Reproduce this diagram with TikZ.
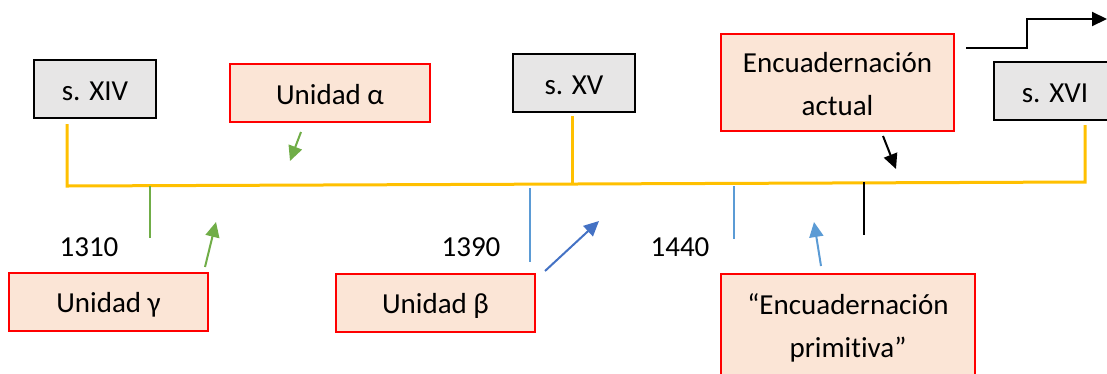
\documentclass[tikz,border=0pt]{standalone}
\usepackage{fontspec}
\setmainfont{Carlito}[Ligatures={NoCommon}]
\usetikzlibrary{arrows.meta}
\definecolor{grisfondo}{HTML}{E7E6E6}
\definecolor{salmon}{HTML}{FBE5D6}
\definecolor{amarillo}{HTML}{FFC000}
\definecolor{verde}{HTML}{70AD47}
\definecolor{azul}{HTML}{4472C4}
\definecolor{celeste}{HTML}{5B9BD5}
\begin{document}
\begin{tikzpicture}[x=1pt,y=-1pt]
\tikzset{texto/.style={inner sep=0pt, text height=22pt, text depth=0pt, font=\fontsize{29}{43}\selectfont}}
\tikzset{siglo/.style={texto, draw, line width=2pt, fill=grisfondo, minimum width=122pt, minimum height=58pt}}
\tikzset{unidad/.style={texto, draw=red, line width=2pt, fill=salmon, minimum height=58pt, align=center}}
\tikzset{doble/.style={text height=65pt}}
\tikzset{linea/.style={amarillo, line width=3pt}}
\tikzset{marca/.style={line width=2pt}}
\tikzset{flecha/.style={line width=2pt, -{Triangle[length=15pt,width=14pt]}}}
\useasboundingbox (0,0) rectangle (1107,373);
\clip (0,0) rectangle (1107,373);
\node[siglo] (XIV) at (95, 89) {s. XIV};
\node[siglo] (XV) at (574, 83) {s. XV};
\node[siglo] (XVI) at (1055, 91) {s. XVI};
\node[unidad, minimum width=200pt] (Alfa) at (330, 93) {Unidad α};
\node[unidad, minimum width=199pt] (Gamma) at (108.5, 301.5) {Unidad γ};
\node[unidad, minimum width=199pt] (Beta) at (435.5, 302.5) {Unidad β};
\node[unidad, doble, minimum width=233pt, minimum height=97pt] (Actual) at (837.5, 82.5) {Encuadernación\\actual};
\node[unidad, doble, minimum width=254pt, minimum height=101pt] (Primitiva) at (848, 324.5) {“Encuadernación\\primitiva”};
\node[texto] (A1310) at (89, 245) {1310};
\node[texto] (A1390) at (471, 245) {1390};
\node[texto] (A1440) at (680, 245) {1440};
\coordinate (L1) at (67, 124);
\coordinate (L2) at (67, 186);
\coordinate (L3) at (1085, 182);
\coordinate (L4) at (1085, 125);
\coordinate (L5) at (572, 116);
\coordinate (L6) at (572, 184);
\draw[linea] (L1) -- (L2) -- (L3) -- (L4);
\draw[linea] (L5) -- (L6);
\coordinate (M1a) at (150, 186);
\coordinate (M1b) at (150, 238);
\coordinate (M2a) at (530, 188);
\coordinate (M2b) at (530, 262);
\coordinate (M3a) at (734, 186);
\coordinate (M3b) at (734, 239);
\coordinate (M4a) at (864, 182);
\coordinate (M4b) at (864, 235);
\draw[marca, verde] (M1a) -- (M1b);
\draw[marca, celeste] (M2a) -- (M2b);
\draw[marca, celeste] (M3a) -- (M3b);
\draw[marca, black] (M4a) -- (M4b);
\coordinate (F1a) at (205, 267);
\coordinate (F1b) at (216, 222);
\coordinate (F2a) at (301, 132);
\coordinate (F2b) at (290, 161);
\coordinate (F3a) at (545, 271);
\coordinate (F3b) at (599, 221);
\coordinate (F4a) at (821, 266);
\coordinate (F4b) at (814, 222);
\coordinate (F5a) at (883, 136);
\coordinate (F5b) at (896, 169);
\draw[flecha, verde] (F1a) -- (F1b);
\draw[flecha, verde] (F2a) -- (F2b);
\draw[flecha, azul] (F3a) -- (F3b);
\draw[flecha, celeste] (F4a) -- (F4b);
\draw[flecha, black] (F5a) -- (F5b);
\coordinate (S1) at (966, 48);
\coordinate (S2) at (1027, 48);
\coordinate (S3) at (1027, 19);
\coordinate (S4) at (1107, 19);
\draw[flecha, black] (S1) -- (S2) -- (S3) -- (S4);
\end{tikzpicture}
\end{document}
